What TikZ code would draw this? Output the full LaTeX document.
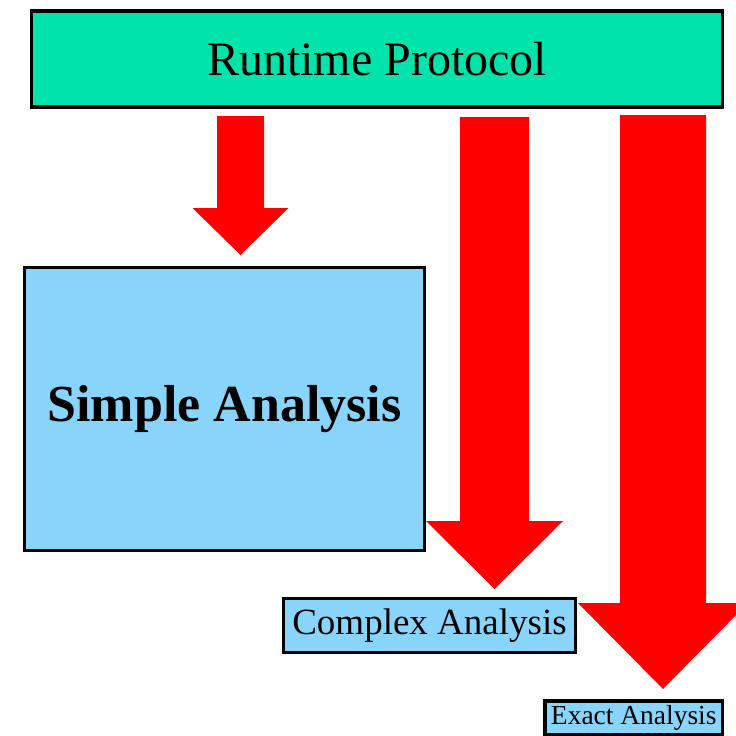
\documentclass[tikz,border=0pt]{standalone}
\usepackage{fontspec}
\setmainfont{Liberation Serif}
\definecolor{protofill}{HTML}{00E4AC}
\definecolor{boxfill}{HTML}{88D4FA}
\definecolor{arrowred}{HTML}{FF0000}
\tikzset{
  layer/.style={draw=black, line width=2.7pt, inner sep=0pt, anchor=center},
  protobox/.style={layer, fill=protofill},
  analysisbox/.style={layer, fill=boxfill},
  blockarrow/.style={fill=arrowred, draw=none},
}
% block arrow: #1 shaft centre x, #2 top y, #3 head base y, #4 tip y, #5 shaft half width, #6 head half width
\newcommand\downblock[6]{%
  \fill[blockarrow] (#1-#5,#2) -- (#1+#5,#2) -- (#1+#5,#3) -- (#1+#6,#3)
    -- (#1,#4) -- (#1-#6,#3) -- (#1-#5,#3) -- cycle;}
\begin{document}
\begin{tikzpicture}[x=0.75pt,y=-0.75pt]
  \useasboundingbox (0,0) rectangle (736,736);

  % arrows
  \downblock{240.5}{116}{208}{255}{23.5}{48}
  \downblock{494.5}{117}{521}{589}{34.5}{68.5}
  \downblock{663}{115}{603}{689}{43}{85}

  % boxes
  \node[protobox, minimum width=518.25pt, minimum height=72pt] (proto) at (377,59)
    {\fontsize{36}{40}\selectfont Runtime Protocol};
  \node[analysisbox, minimum width=300pt, minimum height=212.25pt] (simple) at (224.5,409)
    {\fontsize{39}{44}\selectfont\bfseries Simple Analysis};
  \node[analysisbox, minimum width=219pt, minimum height=40.5pt] (complex) at (429.5,625.5)
    {\fontsize{27.75}{32}\selectfont Complex Analysis};
  \node[analysisbox, minimum width=133.1pt, minimum height=25.1pt] (exact) at (633.75,717.75)
    {\fontsize{20.6}{24}\selectfont Exact Analysis};
\end{tikzpicture}
\end{document}
